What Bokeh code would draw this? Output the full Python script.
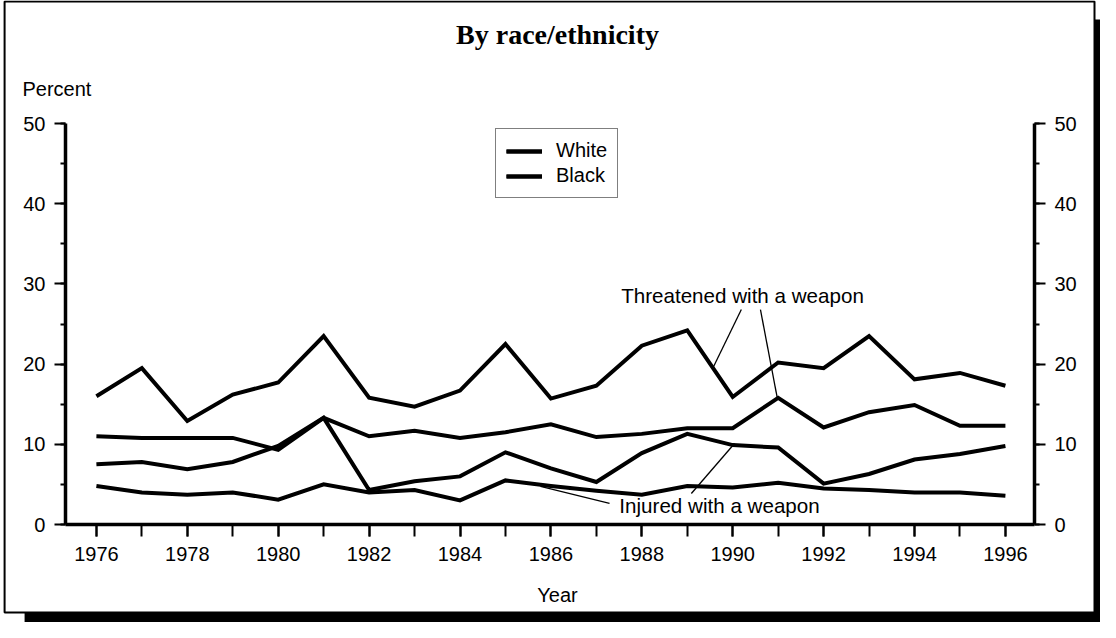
from bokeh.plotting import figure
from bokeh.models import (Range1d, LinearAxis, SingleIntervalTicker, Label,
                          BoxAnnotation, Legend, LegendItem, ColumnDataSource)
from bokeh.embed import file_html
from bokeh.resources import INLINE

# ---- data (percent) ----
years = list(range(1976, 1997))
black_threatened = [16.0, 19.5, 12.9, 16.2, 17.7, 23.5, 15.8, 14.7, 16.7, 22.5, 15.7,
                    17.3, 22.3, 24.2, 15.9, 20.2, 19.5, 23.5, 18.1, 18.9, 17.3]
white_threatened = [11.0, 10.8, 10.8, 10.8, 9.3, 13.3, 11.0, 11.7, 10.8, 11.5, 12.5,
                    10.9, 11.3, 12.0, 12.0, 15.8, 12.1, 14.0, 14.9, 12.3, 12.3]
black_injured = [7.5, 7.8, 6.9, 7.8, 9.8, 13.3, 4.3, 5.4, 6.0, 9.0, 7.0,
                 5.3, 8.9, 11.3, 9.9, 9.6, 5.1, 6.3, 8.1, 8.8, 9.8]
white_injured = [4.8, 4.0, 3.7, 4.0, 3.1, 5.0, 4.0, 4.3, 3.0, 5.5, 4.8,
                 4.2, 3.7, 4.8, 4.6, 5.2, 4.5, 4.3, 4.0, 4.0, 3.6]
legend_labels = ["White", "Black"]
title_text = "By race/ethnicity"
annot_threat = "Threatened with a weapon"
annot_injured = "Injured with a weapon"

FONT = "Liberation Sans"
X0, X1 = 1975.32, 1996.64   # plotted year span (axis ends)
Y0, Y1 = 0, 50

# the frame covers the whole canvas; axes are pinned with fixed_location
p = figure(width=1100, height=622, title=None,
           x_range=Range1d(1973.890, 1998.092), y_range=Range1d(-12.219, 65.337),
           x_axis_type=None, y_axis_type=None,
           output_backend="svg", toolbar_location=None,
           min_border_left=0, min_border_right=0,
           min_border_top=0, min_border_bottom=0)
p.outline_line_color = None
p.border_fill_color = "white"
p.background_fill_color = "white"

# outer frame with drop shadow
p.add_layout(BoxAnnotation(left=1974.42, right=1999.5, top=62.97, bottom=-15,
                           fill_color="black", fill_alpha=1, line_color=None,
                           level="underlay"))
p.add_layout(BoxAnnotation(left=1973.98, right=1997.96, top=65.21, bottom=-10.97,
                           fill_color="white", fill_alpha=1, line_color="black",
                           line_alpha=1, line_width=2, level="underlay"))

def style_axis(ax):
    ax.axis_line_width = 3.5
    ax.axis_line_color = "black"
    ax.major_tick_in = 0
    ax.minor_tick_in = 0
    ax.major_tick_line_width = 2
    ax.minor_tick_line_width = 2
    ax.major_label_text_font = FONT
    ax.major_label_text_font_size = "20px"
    ax.major_label_text_color = "black"

xaxis = LinearAxis(ticker=SingleIntervalTicker(interval=2, num_minor_ticks=2),
                   fixed_location=Y0, bounds=(X0, X1))
style_axis(xaxis)
xaxis.major_tick_out = 12
xaxis.minor_tick_out = 12
xaxis.major_label_standoff = 10
p.add_layout(xaxis, "below")

for side, loc in (("left", X0), ("right", X1)):
    ya = LinearAxis(ticker=SingleIntervalTicker(interval=10, num_minor_ticks=2),
                    fixed_location=loc, bounds=(Y0, Y1))
    style_axis(ya)
    ya.major_tick_out = 11
    ya.minor_tick_out = 5
    ya.major_label_standoff = 9
    p.add_layout(ya, side)

src = ColumnDataSource(dict(year=years, bt=black_threatened, wt=white_threatened,
                            bi=black_injured, wi=white_injured))
lw = 4
r_bt = p.line("year", "bt", source=src, line_color="black", line_width=lw, line_join="miter")
r_wt = p.line("year", "wt", source=src, line_color="black", line_width=lw, line_join="miter")
r_bi = p.line("year", "bi", source=src, line_color="black", line_width=lw, line_join="miter")
r_wi = p.line("year", "wi", source=src, line_color="black", line_width=lw, line_join="miter")

legend = Legend(items=[LegendItem(label=legend_labels[0], renderers=[r_wt, r_wi]),
                       LegendItem(label=legend_labels[1], renderers=[r_bt, r_bi])],
                location=(495, 424), orientation="vertical",
                border_line_color="black", border_line_width=1.5,
                background_fill_color="white", background_fill_alpha=1,
                label_text_font=FONT, label_text_font_size="20px",
                label_text_color="black",
                glyph_width=36, glyph_height=20, label_height=20,
                spacing=2, padding=10, margin=0, label_standoff=14)
p.add_layout(legend)

# annotation leader lines
p.segment(x0=[1990.19, 1990.61, 1987.29, 1989.09], y0=[26.8, 26.8, 2.62, 3.87],
          x1=[1989.58, 1990.98, 1985.77, 1990.04], y1=[19.7, 15.8, 4.74, 10.1],
          line_color="black", line_width=1.3)

def lab(x, y, text, size="20px", font=FONT, style="normal", align="center", baseline="middle"):
    p.add_layout(Label(x=x, y=y, text=text, text_font=font, text_font_size=size,
                       text_font_style=style, text_align=align, text_baseline=baseline,
                       text_color="black"))

lab(1990.215, 28.55, annot_threat, size="20.6px")
lab(1989.71, 2.37, annot_injured, size="20.6px")
lab(1986.145, 61.10, title_text, size="28px", font="Liberation Serif", style="bold")
lab(1974.374, 54.24, "Percent", align="left")
lab(1986.145, -8.73, "Year")

open("out.html", "w").write(file_html(p, INLINE))
